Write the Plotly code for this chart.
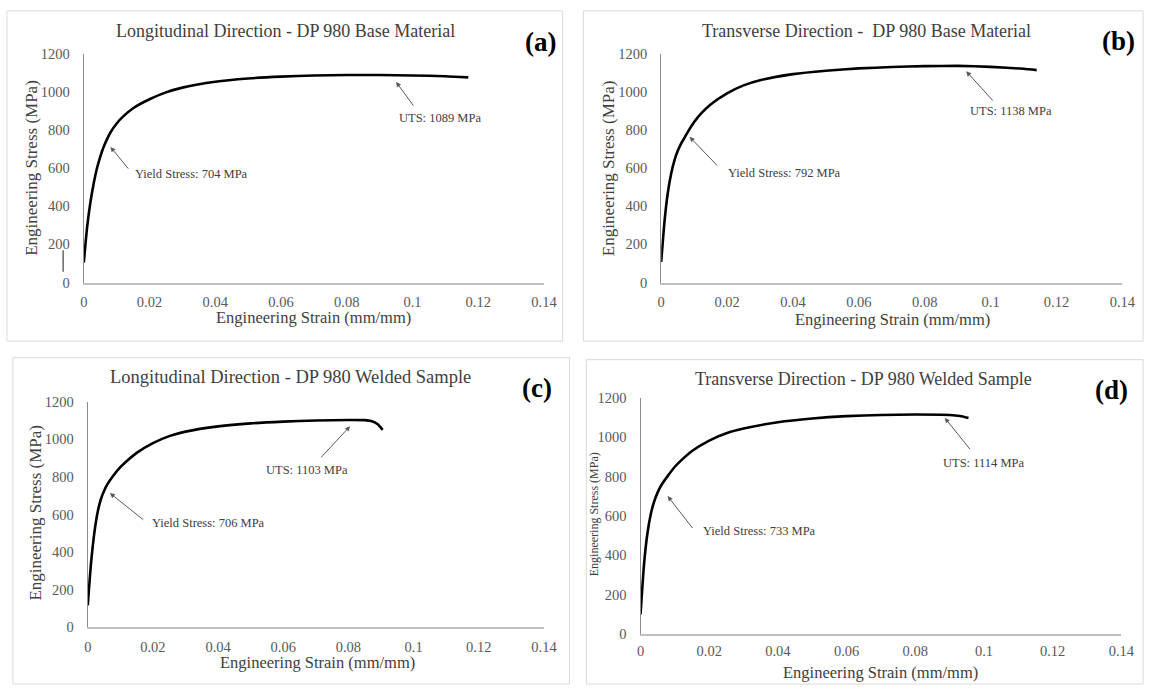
import plotly.graph_objects as go

W, H = 1157, 694

# ---------------- data ----------------
strain_a = [0, 0.001, 0.002, 0.003, 0.004, 0.005, 0.006, 0.007, 0.008, 0.01, 0.012, 0.015, 0.02,
            0.025, 0.03, 0.04, 0.05, 0.06, 0.07, 0.08, 0.09, 0.1, 0.11, 0.117]
stress_a = [105, 290, 420, 520, 600, 660, 710, 750, 785, 835, 872, 915, 962,
            998, 1023, 1054, 1071, 1081, 1087, 1089, 1089, 1087, 1083, 1077]

strain_b = [0, 0.001, 0.002, 0.003, 0.004, 0.005, 0.006, 0.007, 0.008, 0.01, 0.012, 0.015, 0.02,
            0.025, 0.03, 0.04, 0.05, 0.06, 0.07, 0.08, 0.09, 0.1, 0.11, 0.114]
stress_b = [108, 320, 470, 570, 640, 690, 728, 758, 788, 842, 885, 935, 993,
            1035, 1062, 1094, 1112, 1124, 1131, 1136, 1137, 1132, 1122, 1115]

strain_c = [0, 0.001, 0.002, 0.003, 0.004, 0.005, 0.006, 0.008, 0.01, 0.012, 0.015, 0.02,
            0.025, 0.03, 0.04, 0.05, 0.06, 0.07, 0.08, 0.085, 0.087, 0.089, 0.0905]
stress_c = [117, 340, 500, 610, 680, 725, 760, 810, 852, 885, 928, 980,
            1017, 1041, 1069, 1085, 1094, 1100, 1103, 1102, 1097, 1080, 1050]

strain_d = [0, 0.001, 0.002, 0.003, 0.004, 0.005, 0.006, 0.008, 0.01, 0.012, 0.015, 0.02,
            0.025, 0.03, 0.04, 0.05, 0.06, 0.07, 0.08, 0.09, 0.093, 0.0955]
stress_d = [100, 350, 510, 610, 675, 720, 755, 805, 850, 885, 930, 983,
            1020, 1044, 1076, 1095, 1107, 1113, 1115, 1113, 1108, 1098]

titles = ["Longitudinal Direction - DP 980 Base Material",
          "Transverse Direction -  DP 980 Base Material",
          "Longitudinal Direction - DP 980 Welded Sample",
          "Transverse Direction - DP 980 Welded Sample"]
panel_labels = ["(a)", "(b)", "(c)", "(d)"]
yield_labels = ["Yield Stress: 704 MPa", "Yield Stress: 792 MPa",
                "Yield Stress: 706 MPa", "Yield Stress: 733 MPa"]
uts_labels = ["UTS: 1089 MPa", "UTS: 1138 MPa", "UTS: 1103 MPa", "UTS: 1114 MPa"]
x_title = "Engineering Strain (mm/mm)"
y_title = "Engineering Stress (MPa)"
x_ticks = [0, 0.02, 0.04, 0.06, 0.08, 0.1, 0.12, 0.14]
y_ticks = [0, 200, 400, 600, 800, 1000, 1200]

# annotation anchor points (strain, stress): arrow head, arrow tail, label left/middle
yield_head = [(0.0081, 712), (0.0086, 765), (0.0068, 714), (0.0079, 701)]
yield_tail = [(0.0139, 590), (0.0174, 607), (0.0175, 566), (0.0155, 531)]
yield_text = [(0.0150, 570), (0.0197, 576), (0.0192, 557), (0.0176, 526)]
uts_head = [(0.0950, 1053), (0.0926, 1109), (0.0805, 1070), (0.0886, 1098)]
uts_tail = [(0.1006, 921), (0.1011, 947), (0.0712, 896), (0.0963, 931)]
uts_text = [(0.0953, 865), (0.0930, 899), (0.0542, 839), (0.0875, 869)]

curves = [(strain_a, stress_a), (strain_b, stress_b), (strain_c, stress_c), (strain_d, stress_d)]

# ---------------- layout in pixels ----------------
plot_px = [(81, 548, 47, 281), (667, 1135, 47, 281), (85, 548, 403, 634), (646, 1134, 399, 641)]
border_px = [(3, 567, 3, 341), (588, 1156, 3, 341), (9, 574, 358, 692), (591, 1156, 360, 692)]
title_pos = [(286, 24), (875, 24), (291, 378), (872, 380)]
title_size = [18, 18, 18.5, 18]
label_pos = [(545, 35), (1131, 34), (541, 389), (1124, 391)]
xtitle_pos = [(314, 317), (902, 319), (318, 670), (890, 680)]
xtick_standoff = [5, 5, 5, 3]
ytitle_pos = [(28, 164), (613, 164), (32, 517), (599, 518)]
ytitle_size = [17, 17, 17, 12]

FONT = "Liberation Serif"

def px(x):
    return x / W

def py(y):
    return 1 - y / H

fig = go.Figure()
annotations = []
shapes = []

for i, (sx, sy) in enumerate(curves):
    n = "" if i == 0 else str(i + 1)
    fig.add_trace(go.Scatter(x=sx, y=sy, mode="lines",
                             line=dict(color="black", width=2.6, shape="spline", smoothing=0.5),
                             xaxis="x" + n, yaxis="y" + n, showlegend=False, hoverinfo="skip"))
    x0, x1, y0, y1 = plot_px[i]
    common = dict(showgrid=False, zeroline=False, ticks="",
                  tickfont=dict(family=FONT, size=14.5, color="#595959"), fixedrange=True)
    fig.update_layout(**{
        "xaxis" + n: dict(domain=[px(x0), px(x1)], range=[0, 0.14], tickvals=x_ticks,
                          ticktext=[f"{v:g}" for v in x_ticks],
                          showline=True, linecolor="#bfbfbf", linewidth=1.5,
                          anchor="y" + n, ticklabelstandoff=xtick_standoff[i], **common),
        "yaxis" + n: dict(domain=[py(y1), py(y0)], range=[0, 1200], tickvals=y_ticks,
                          showline=True, linecolor="#8c8c8c", linewidth=1.2,
                          anchor="x" + n, ticklabelstandoff=10, **common),
    })
    xr = "x" + n
    yr = "y" + n
    for head, tail in ((yield_head[i], yield_tail[i]), (uts_head[i], uts_tail[i])):
        annotations.append(dict(x=head[0], y=head[1], xref=xr, yref=yr,
                                ax=tail[0], ay=tail[1], axref=xr, ayref=yr,
                                text="", showarrow=True, arrowhead=2, arrowsize=1,
                                arrowwidth=1, arrowcolor="#595959"))
    annotations.append(dict(x=yield_text[i][0], y=yield_text[i][1], xref=xr, yref=yr,
                            text=yield_labels[i], showarrow=False, xanchor="left", yanchor="middle",
                            font=dict(family=FONT, size=12.5, color="#404040")))
    annotations.append(dict(x=uts_text[i][0], y=uts_text[i][1], xref=xr, yref=yr,
                            text=uts_labels[i], showarrow=False, xanchor="left", yanchor="middle",
                            font=dict(family=FONT, size=12.5, color="#404040")))
    annotations.append(dict(x=px(title_pos[i][0]), y=py(title_pos[i][1]), xref="paper", yref="paper",
                            text=titles[i], showarrow=False, xanchor="center", yanchor="middle",
                            font=dict(family=FONT, size=title_size[i], color="#404040")))
    annotations.append(dict(x=px(label_pos[i][0]), y=py(label_pos[i][1]), xref="paper", yref="paper",
                            text="<b>" + panel_labels[i] + "</b>", showarrow=False,
                            xanchor="center", yanchor="middle",
                            font=dict(family=FONT, size=27, color="black")))
    annotations.append(dict(x=px(xtitle_pos[i][0]), y=py(xtitle_pos[i][1]), xref="paper", yref="paper",
                            text=x_title, showarrow=False, xanchor="center", yanchor="middle",
                            font=dict(family=FONT, size=16.5, color="#404040")))
    annotations.append(dict(x=px(ytitle_pos[i][0]), y=py(ytitle_pos[i][1]), xref="paper", yref="paper",
                            text=y_title, showarrow=False, xanchor="center", yanchor="middle",
                            textangle=-90,
                            font=dict(family=FONT, size=ytitle_size[i], color="#404040")))
    bx0, bx1, by0, by1 = border_px[i]
    shapes.append(dict(type="rect", xref="paper", yref="paper",
                       x0=px(bx0), x1=px(bx1), y0=py(by1), y1=py(by0),
                       line=dict(color="#d9d9d9", width=1), fillcolor="rgba(0,0,0,0)"))

# stray short vertical line next to the first y axis title
shapes.append(dict(type="line", xref="paper", yref="paper", x0=px(60), x1=px(60),
                   y0=py(270), y1=py(248), line=dict(color="#404040", width=1.2)))

fig.update_layout(width=W, height=H, margin=dict(l=0, r=0, t=0, b=0),
                  paper_bgcolor="white", plot_bgcolor="white",
                  font=dict(family=FONT),
                  annotations=annotations, shapes=shapes, showlegend=False)

fig.write_html("out.html", config={"displayModeBar": False},
               post_script="document.body.style.margin='0px';document.body.style.overflow='hidden';")
